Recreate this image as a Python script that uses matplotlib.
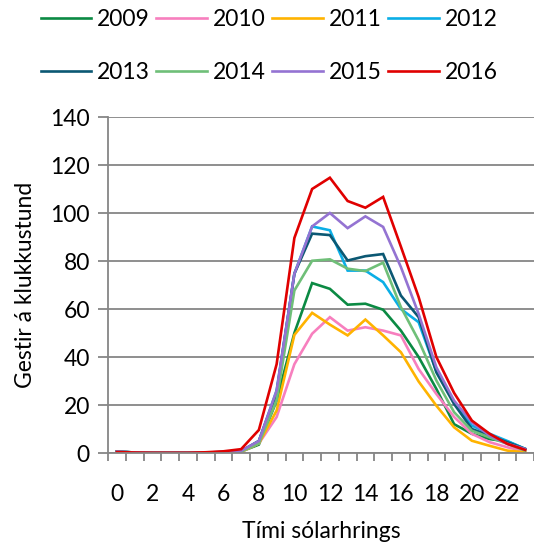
import numpy as np
import matplotlib
matplotlib.use('Agg')
import matplotlib.pyplot as plt
from matplotlib.ticker import MultipleLocator, FixedLocator

plt.rcParams['font.family'] = ['Lato', 'DejaVu Sans']

hours = list(range(24))
years = ['2009', '2010', '2011', '2012', '2013', '2014', '2015', '2016']
colors = ['#0B8A43', '#F77FBE', '#FFB300', '#0BAEE6', '#0B5873', '#6FBF78', '#9473D2', '#E00000']

v2009 = [0.6, 0.2, 0.1, 0.1, 0.1, 0.2, 0.3, 0.6, 3.5, 21.8, 50.0, 70.8, 68.4, 61.8, 62.2, 59.7,
         51.0, 40.0, 26.7, 12.0, 8.0, 5.8, 4.8, 1.7]
v2010 = [0.5, 0.2, 0.1, 0.1, 0.1, 0.2, 0.3, 0.5, 4.0, 15.0, 37.0, 49.7, 56.6, 51.0, 52.4, 51.0,
         49.0, 35.0, 24.6, 15.0, 8.0, 4.5, 2.4, 0.7]
v2011 = [0.5, 0.2, 0.1, 0.1, 0.1, 0.2, 0.3, 0.5, 4.0, 17.7, 49.2, 58.4, 53.5, 49.0, 55.6, 49.0,
         42.0, 29.8, 19.7, 10.7, 5.1, 3.0, 1.0, 0.3]
v2012 = [0.6, 0.2, 0.1, 0.1, 0.1, 0.2, 0.4, 0.8, 5.0, 26.0, 74.7, 94.4, 92.8, 76.0, 76.0, 71.2,
         60.0, 54.5, 34.0, 21.0, 11.4, 8.0, 5.0, 1.7]
v2013 = [0.6, 0.2, 0.1, 0.1, 0.1, 0.2, 0.4, 0.8, 5.0, 25.0, 74.7, 91.4, 90.8, 80.2, 82.0, 82.9,
         65.6, 56.6, 33.6, 20.4, 10.0, 7.2, 4.5, 1.7]
v2014 = [0.5, 0.2, 0.1, 0.1, 0.1, 0.2, 0.3, 0.6, 4.0, 22.0, 67.7, 80.1, 80.7, 76.8, 75.8, 79.3,
         60.8, 46.9, 30.2, 17.0, 9.3, 6.5, 3.8, 1.0]
v2015 = [0.6, 0.2, 0.1, 0.1, 0.1, 0.2, 0.4, 0.9, 5.0, 26.0, 74.7, 94.4, 100.0, 93.7, 98.6, 94.2,
         77.5, 58.0, 35.7, 21.8, 12.8, 7.2, 3.8, 1.7]
v2016 = [0.4, 0.2, 0.1, 0.1, 0.1, 0.3, 0.7, 1.6, 9.6, 37.0, 89.6, 110.0, 114.7, 105.0, 102.2, 106.7,
         86.0, 65.0, 40.0, 25.0, 13.5, 8.0, 3.8, 1.3]

series = [v2009, v2010, v2011, v2012, v2013, v2014, v2015, v2016]

fig = plt.figure(figsize=(5.34, 5.47), dpi=100)
ax = fig.add_axes([108 / 534, 1 - 453 / 547, 426 / 534, 336 / 547])

lines = []
for name, vals, col in zip(years, series, colors):
    ln, = ax.plot(hours, vals, color=col, linewidth=1.9, label=name, solid_joinstyle='miter')
    lines.append(ln)

grey = '#868686'
ax.set_xlim(-0.5, 23.5)
ax.set_ylim(0, 140)
ax.yaxis.set_major_locator(MultipleLocator(20))
ax.grid(axis='y', color=grey, linewidth=1.3)
ax.set_axisbelow(True)

ax.xaxis.set_major_locator(FixedLocator(list(range(0, 24, 2))))
ax.xaxis.set_minor_locator(FixedLocator([h - 0.5 for h in range(25)]))
ax.tick_params(axis='x', which='major', length=0, pad=22, labelsize=16.5)
ax.tick_params(axis='x', which='minor', length=6, width=1.3, color=grey)
ax.tick_params(axis='y', length=7, width=1.3, color=grey, labelsize=16.5, pad=6)

for s in ['top', 'right']:
    ax.spines[s].set_visible(False)
for s in ['left', 'bottom']:
    ax.spines[s].set_color(grey)
    ax.spines[s].set_linewidth(1.3)

ax.set_xlabel('Tími sólarhrings', fontsize=16.5, labelpad=12)
ax.set_ylabel('Gestir á klukkustund', fontsize=16.5, labelpad=10)

# legend is filled column by column, so reorder to read row by row
order = [0, 4, 1, 5, 2, 6, 3, 7]
fig.legend([lines[i] for i in order], [years[i] for i in order],
           loc='upper left', bbox_to_anchor=(36 / 534, 1 - 4 / 547), ncol=4, frameon=False,
           fontsize=16.5, handlelength=2.2, handletextpad=0.25, columnspacing=0.3,
           labelspacing=1.4, borderaxespad=0.1, borderpad=0.1)

fig.savefig('out.png', dpi=100)
